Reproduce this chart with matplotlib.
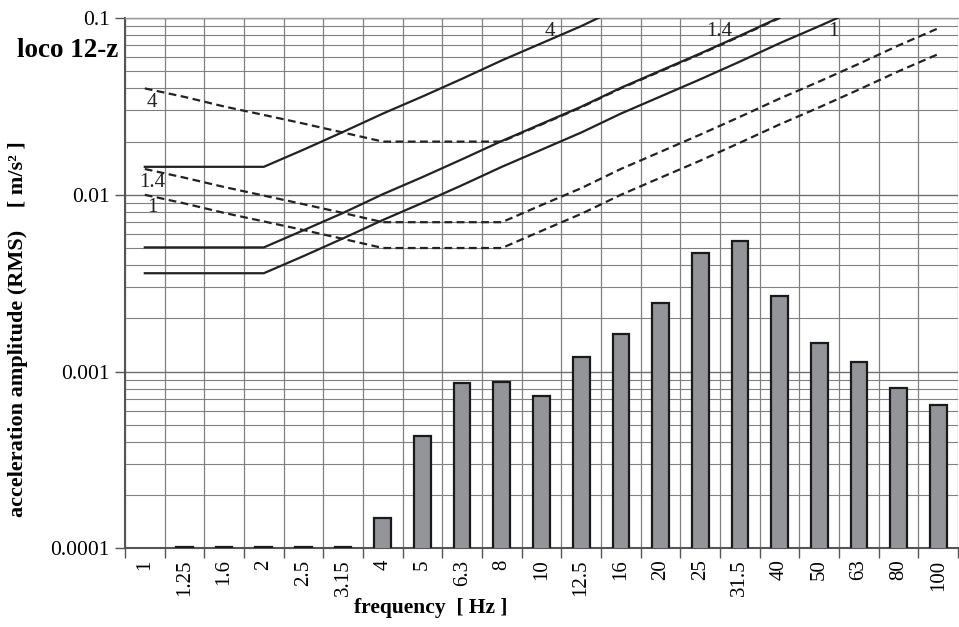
import numpy as np
import matplotlib
matplotlib.use("Agg")
import matplotlib.pyplot as plt
from matplotlib.ticker import FixedLocator, NullFormatter, LogLocator

plt.rcParams['font.family'] = ['Liberation Serif', 'DejaVu Serif']

freq_labels = ["1", "1.25", "1.6", "2", "2.5", "3.15", "4", "5", "6.3", "8", "10",
               "12.5", "16", "20", "25", "31.5", "40", "50", "63", "80", "100"]

# measured RMS acceleration (bars)
measured = [np.nan, 0.000102, 0.000102, 0.000102, 0.000102, 0.000102, 0.000149,
            0.000431, 0.000863, 0.000875, 0.000725, 0.00121, 0.00163, 0.00244,
            0.00469, 0.00545, 0.00269, 0.00145, 0.00113, 0.000809, 0.000643]

# solid curves (x/y-axis criteria), factors 1, 1.4, 4
solid_1 = [0.0036, 0.0036, 0.0036, 0.0036, 0.0045, 0.00567, 0.0072, 0.009, 0.01134,
           0.0144, 0.018, 0.0225, 0.0288, 0.036, 0.045, 0.0567, 0.072, 0.09, 0.1134,
           np.nan, np.nan]
solid_14 = [0.00504, 0.00504, 0.00504, 0.00504, 0.0063, 0.0079, 0.01008, 0.0126, 0.0159,
            0.02016, 0.0252, 0.0315, 0.0403, 0.0504, 0.063, 0.0794, 0.1008, 0.126,
            np.nan, np.nan, np.nan]
solid_4 = [0.0144, 0.0144, 0.0144, 0.0144, 0.018, 0.0227, 0.0288, 0.036, 0.04536,
           0.0576, 0.072, 0.09, 0.1152, np.nan, np.nan, np.nan, np.nan, np.nan,
           np.nan, np.nan, np.nan]

# dashed curves (z-axis criteria), factors 1, 1.4, 4
dashed_1 = [0.01, 0.00894, 0.0079, 0.00707, 0.00632, 0.00563, 0.005, 0.005, 0.005,
            0.005, 0.00625, 0.0078, 0.01, 0.0125, 0.0156, 0.0197, 0.025, 0.03125,
            0.0394, 0.05, 0.0625]
dashed_14 = [0.014, 0.0125, 0.01107, 0.0099, 0.00885, 0.00789, 0.007, 0.007, 0.007,
             0.007, 0.00875, 0.0109, 0.014, 0.0175, 0.0219, 0.0276, 0.035, 0.04375,
             0.0551, 0.07, 0.0875]
dashed_4 = [0.04, 0.0358, 0.0316, 0.0283, 0.0253, 0.0225, 0.02, 0.02, 0.02, 0.02,
            0.025, 0.03125, 0.04, 0.05, 0.0625, 0.0788, 0.1, 0.125, np.nan, np.nan, np.nan]

fig = plt.figure(figsize=(9.59, 6.27), dpi=100)
ax = fig.add_axes([0.1303, 0.1255, 0.8687, 0.8457])

x = np.arange(len(freq_labels))
ax.set_yscale('log')
ax.set_ylim(1e-4, 0.1)
ax.set_xlim(-0.5, len(freq_labels) - 0.5)

gridc = '#808080'
ax.yaxis.set_minor_locator(LogLocator(base=10, subs=np.arange(2, 10), numticks=20))
ax.yaxis.set_minor_formatter(NullFormatter())
ax.set_yticks([1e-4, 1e-3, 1e-2, 1e-1])
ax.set_yticklabels(["0.0001", "0.001", "0.01", "0.1"])
ax.set_ylim(1e-4, 0.1)
ax.grid(True, which='major', axis='y', color='#6e6e6e', lw=1.0, zorder=0)
ax.grid(True, which='minor', axis='y', color=gridc, lw=0.8, zorder=0)

ax.xaxis.set_major_locator(FixedLocator(np.arange(-0.5, len(freq_labels), 1.0)))
ax.xaxis.set_major_formatter(NullFormatter())
ax.xaxis.set_minor_locator(FixedLocator(x))
ax.set_xticklabels(freq_labels, minor=True, rotation=90, fontsize=15)
ax.grid(True, which='major', axis='x', color=gridc, lw=0.9, zorder=0)
ax.set_axisbelow(True)

ax.tick_params(axis='x', which='minor', length=0, pad=8)
ax.tick_params(axis='x', which='major', length=7, color='#555555', width=1)
ax.tick_params(axis='y', which='major', length=7, color='#555555', width=1, labelsize=15.5, pad=4)
ax.tick_params(axis='y', which='minor', length=0)

# bars rise from far below the visible range so their tops sit at the measured values
ax.bar(x, measured, width=0.42, bottom=1e-9, color='#939598', edgecolor='#1a1a1a',
       linewidth=1.6, zorder=3)

lc = '#222222'
for s in (solid_1, solid_14, solid_4):
    ax.plot(x, s, color=lc, lw=1.6, zorder=4)
for d in (dashed_1, dashed_14, dashed_4):
    ax.plot(x, d, color=lc, lw=1.6, ls=(0, (3.5, 2.0)), zorder=4)

# curve labels
tk = dict(fontsize=15, color='#222222', zorder=5)
ax.text(0.17, 0.0331, "4", ha='center', va='center', **tk)
ax.text(0.2, 0.0117, "1.4", ha='center', va='center', **tk)
ax.text(0.2, 0.00845, "1", ha='center', va='center', **tk)
ax.text(10.2, 0.084, "4", ha='center', va='center', **tk)
ax.text(14.49, 0.084, "1.4", ha='center', va='center', **tk)
ax.text(17.35, 0.084, "1", ha='center', va='center', **tk)

for sp in ('left', 'bottom'):
    ax.spines[sp].set_color('#555555')
    ax.spines[sp].set_linewidth(1.5)
ax.spines['top'].set_color('#999999')
ax.spines['top'].set_linewidth(1.0)
ax.spines['right'].set_visible(False)

fig.text(0.018, 0.919, "loco 12-z", fontsize=19.5, fontweight='bold', ha='left', va='center')
fig.text(0.019, 0.4753, "acceleration amplitude (RMS)    [ m/s² ]", fontsize=16,
         fontweight='bold', rotation=90, ha='center', va='center')
fig.text(0.449, 0.03, "frequency  [ Hz ]", fontsize=15.5, fontweight='bold',
         ha='center', va='center')

fig.savefig("out.png", dpi=100)
